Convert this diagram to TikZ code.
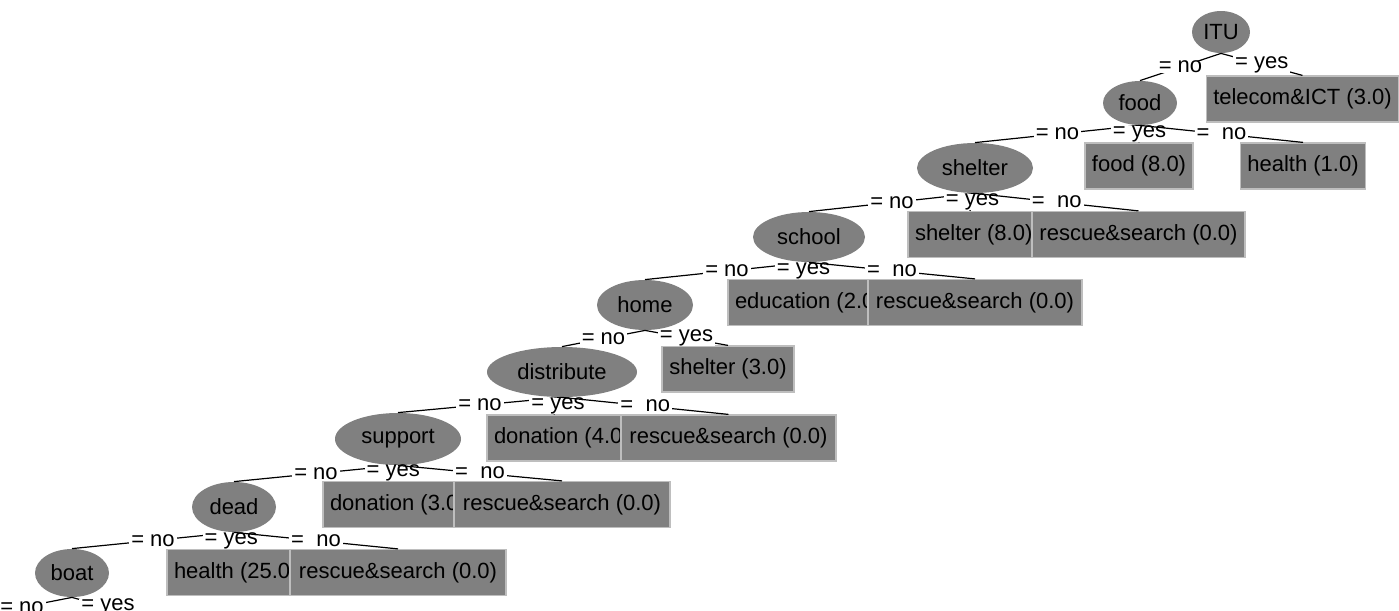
\documentclass[tikz,border=0pt]{standalone}
\usepackage{fontspec}
\setmainfont{Liberation Sans}
\usetikzlibrary{shapes.geometric}
\definecolor{treegray}{RGB}{128,128,128}
\definecolor{boxedge}{RGB}{190,190,190}
% fixed width box, the text may run over its right edge
\newcommand{\leafcut}[2]{\makebox[#1][l]{#2}}

\begin{document}
\begin{tikzpicture}[x=0.5pt, y=-0.5pt,
    font=\fontsize{11pt}{13pt}\selectfont,
    split/.style={ellipse, fill=treegray, inner sep=0pt},
    leaf/.style={rectangle, fill=treegray, draw=boxedge, line width=0.6pt,
      inner xsep=3.5pt, inner ysep=0pt, minimum height=23pt},
    lbl/.style={fill=white, inner xsep=1pt, inner ysep=0pt},
    branch/.style={line width=0.6pt}]

  \useasboundingbox (0,0) rectangle (1399,611);
  \clip (0,0) rectangle (1399,611);

  % Split nodes
  \node[split, minimum width=29pt, minimum height=21pt] (itu) at (1221,32) {ITU};
  \node[split, minimum width=37pt, minimum height=22pt] (food) at (1140,103) {food};
  \node[split, minimum width=58pt, minimum height=25pt] (shelter) at (975,168) {shelter};
  \node[split, minimum width=56pt, minimum height=25pt] (school) at (809,237) {school};
  \node[split, minimum width=48pt, minimum height=25pt] (home) at (645,305) {home};
  \node[split, minimum width=75pt, minimum height=25pt] (distribute) at (562,372) {distribute};
  \node[split, minimum width=63pt, minimum height=26pt] (support) at (398,439) {support};
  \node[split, minimum width=42pt, minimum height=25pt] (dead) at (234,507) {dead};
  \node[split, minimum width=37pt, minimum height=24pt] (boat) at (72,573) {boat};

  % Leaves, each row left to right
  \node[leaf, minimum width=95.5pt] (telecom) at (1302.5,99) {telecom\&ICT (3.0)};
  \node[leaf, minimum width=54pt] (food8) at (1139,166) {food (8.0)};
  \node[leaf, minimum width=62pt] (health1) at (1303,166) {health (1.0)};
  \node[leaf] (shelter8) at (970,234.5) {\leafcut{55pt}{shelter (8.0)}};
  \node[leaf, minimum width=106.5pt] (rescue1) at (1138.5,234.5) {rescue\&search (0.0)};
  \node[leaf] (education) at (798,302.5) {\leafcut{63pt}{education (2.0)}};
  \node[leaf, minimum width=107pt] (rescue2) at (975,302.5) {rescue\&search (0.0)};
  \node[leaf, minimum width=66pt] (shelter3) at (728,369) {shelter (3.0)};
  \node[leaf] (donation4) at (554,438) {\leafcut{60pt}{donation (4.0)}};
  \node[leaf, minimum width=107.5pt] (rescue3) at (728.5,438) {rescue\&search (0.0)};
  \node[leaf] (donation3) at (388.5,504.5) {\leafcut{58.5pt}{donation (3.0)}};
  \node[leaf, minimum width=108pt] (rescue4) at (562,504.5) {rescue\&search (0.0)};
  \node[leaf] (health25) at (228.5,572.5) {\leafcut{54.5pt}{health (25.0)}};
  \node[leaf, minimum width=108pt] (rescue5) at (398,572.5) {rescue\&search (0.0)};

  % Children of boat lie below the frame
  \coordinate (boatno) at (-28,617);
  \coordinate (boatyes) at (144,617);

  % Branches with their tests
  \draw[branch] (itu.south) -- node[lbl] {= no} (food.north);
  \draw[branch] (itu.south) -- node[lbl] {= yes} (telecom.north);

  \draw[branch] (food.south) -- node[lbl] {= no} (shelter.north);
  \draw[branch] (food.south) -- node[lbl] {= yes} (food8.north);
  \draw[branch] (food.south) -- node[lbl] {=\ \ no} (health1.north);

  \draw[branch] (shelter.south) -- node[lbl] {= no} (school.north);
  \draw[branch] (shelter.south) -- node[lbl] {= yes} (shelter8.north);
  \draw[branch] (shelter.south) -- node[lbl] {=\ \ no} (rescue1.north);

  \draw[branch] (school.south) -- node[lbl] {= no} (home.north);
  \draw[branch] (school.south) -- node[lbl] {= yes} (education.north);
  \draw[branch] (school.south) -- node[lbl] {=\ \ no} (rescue2.north);

  \draw[branch] (home.south) -- node[lbl] {= no} (distribute.north);
  \draw[branch] (home.south) -- node[lbl] {= yes} (shelter3.north);

  \draw[branch] (distribute.south) -- node[lbl] {= no} (support.north);
  \draw[branch] (distribute.south) -- node[lbl] {= yes} (donation4.north);
  \draw[branch] (distribute.south) -- node[lbl] {=\ \ no} (rescue3.north);

  \draw[branch] (support.south) -- node[lbl] {= no} (dead.north);
  \draw[branch] (support.south) -- node[lbl] {= yes} (donation3.north);
  \draw[branch] (support.south) -- node[lbl] {=\ \ no} (rescue4.north);

  \draw[branch] (dead.south) -- node[lbl] {= no} (boat.north);
  \draw[branch] (dead.south) -- node[lbl] {= yes} (health25.north);
  \draw[branch] (dead.south) -- node[lbl] {=\ \ no} (rescue5.north);

  \draw[branch] (boat.south) -- node[lbl] {= no} (boatno);
  \draw[branch] (boat.south) -- node[lbl] {= yes} (boatyes);
\end{tikzpicture}
\end{document}
